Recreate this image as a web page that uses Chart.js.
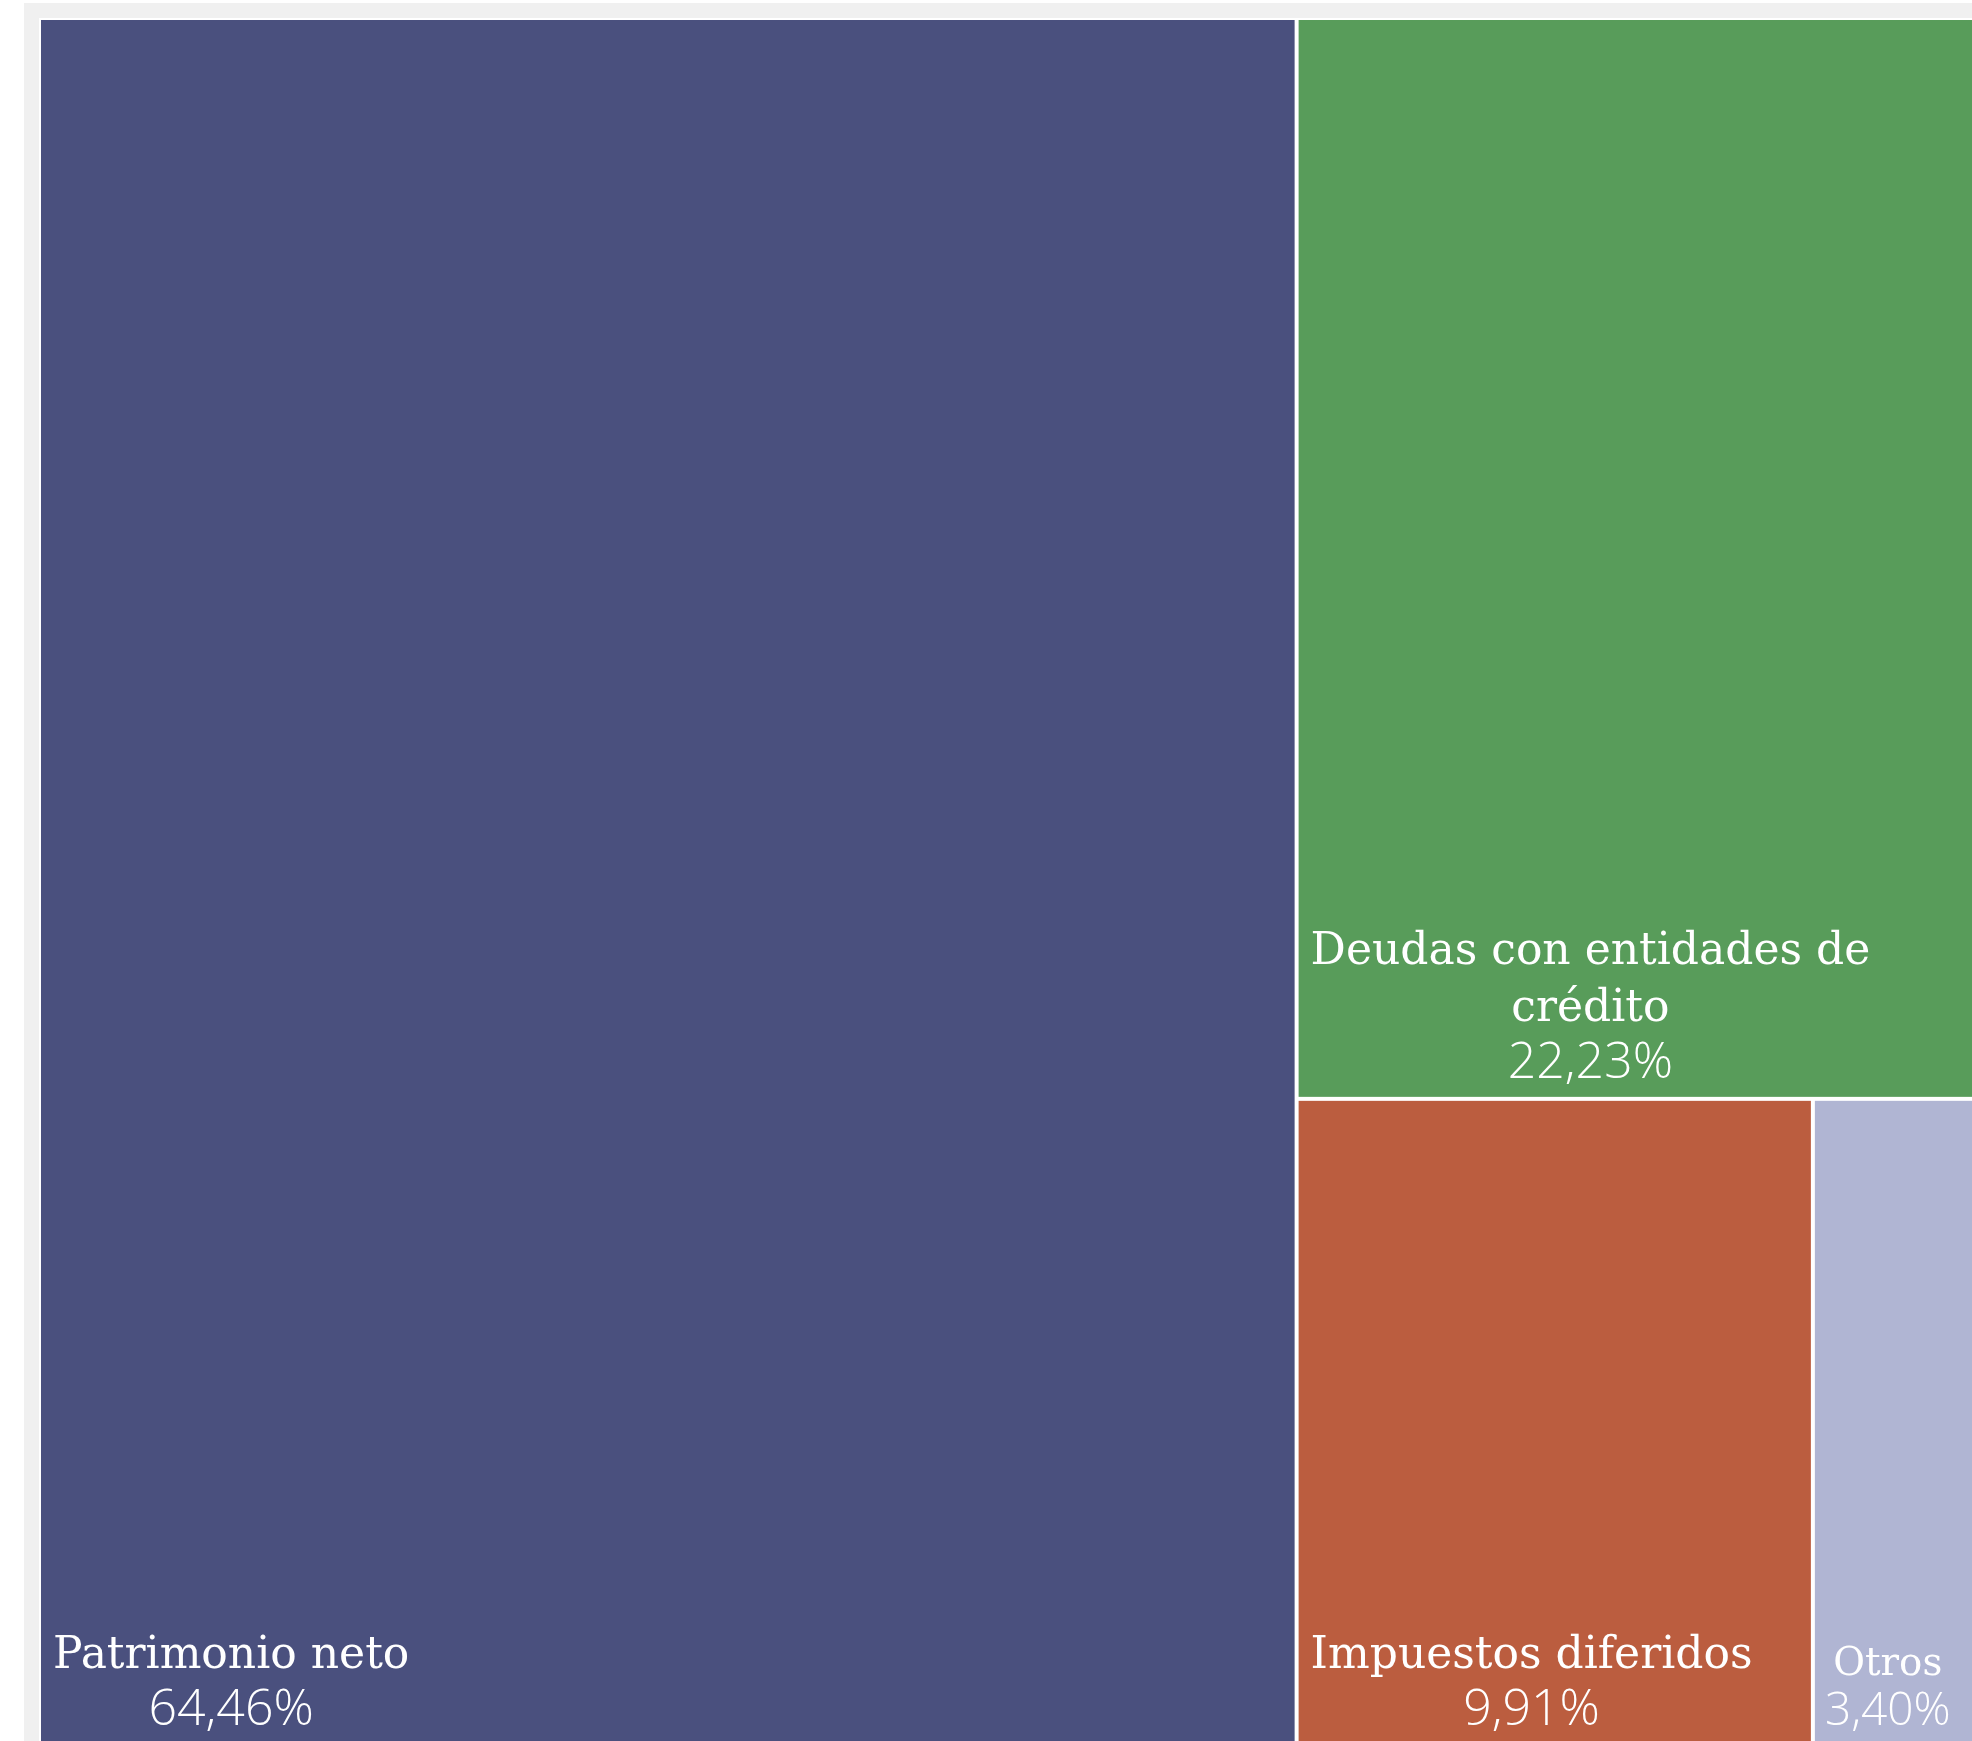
<!DOCTYPE html>
<html>
<head>
<meta charset="utf-8">
<script src="https://cdn.jsdelivr.net/npm/chart.js@4.4.1/dist/chart.umd.min.js"></script>
<style>
html, body { margin:0; padding:0; background:#fff; overflow:hidden; }
#wrap { position:absolute; left:24px; top:3px; }
#chart { background:#f0f0f0; }
</style>
</head>
<body>
<div id="wrap"><canvas id="chart" width="1990" height="1760"></canvas></div>
<script>
// treemap data (share of total, %)
const labels = ["Patrimonio neto", "Deudas con entidades de crédito", "Impuestos diferidos", "Otros"];
const values = [64.46, 22.23, 9.91, 3.40];
const colors = ["#4a507e", "#589c5a", "#bb5d3f", "#b0b5d3"];

function fmt(v){
return v.toFixed(2).replace(".", ",") + "%";
}

// squarify (same steps as d3 treemapSquarify), done in scale units 0..100
function layout(ax, ay){
let phi = (1 + Math.sqrt(5)) / 2;
let x0 = 0, y0 = 0, x1 = 100, y1 = 100;
let total = values.reduce((a,b) => a + b, 0);
let rects = [];
let i0 = 0, i1 = 0, n = values.length;
while(i0 < n){
let dx = (x1 - x0) * ax, dy = (y1 - y0) * ay;
let sum = values[i1++];
let minV = sum, maxV = sum;
let alpha = Math.max(dy/dx, dx/dy) / (total * phi);
let beta = sum * sum * alpha;
let minRatio = Math.max(maxV/beta, beta/minV);
for(; i1 < n; ++i1){
let v = values[i1];
sum += v;
if(v < minV) minV = v;
if(v > maxV) maxV = v;
beta = sum * sum * alpha;
let r = Math.max(maxV/beta, beta/minV);
if(r > minRatio){ sum -= v; break; }
minRatio = r;
}
if(dx < dy){
let ny = y0 + (y1 - y0) * sum / total;
let x = x0;
for(let i = i0; i < i1; i++){
let w = (x1 - x0) * values[i] / sum;
rects[i] = {x0:x, y0:y0, x1:x + w, y1:ny};
x += w;
}
y0 = ny;
} else {
let nx = x0 + (x1 - x0) * sum / total;
let y = y0;
for(let i = i0; i < i1; i++){
let h = (y1 - y0) * values[i] / sum;
rects[i] = {x0:x0, y0:y, x1:nx, y1:y + h};
y += h;
}
x0 = nx;
}
total -= sum;
i0 = i1;
}
return rects;
}

function wrap(ctx, text, maxW){
let words = text.split(" ");
let lines = [];
let cur = "";
words.forEach(w => {
let t = cur ? cur + " " + w : w;
if(cur && ctx.measureText(t).width > maxW){
lines.push(cur);
cur = w;
} else cur = t;
});
lines.push(cur);
return lines;
}

const treemapPlugin = {
id: "treemap",
afterDraw(chart){
const ctx = chart.ctx;
const xs = chart.scales.x, ys = chart.scales.y;
const area = chart.chartArea;
const rects = layout(area.width / 100, area.height / 100);

ctx.save();
ctx.fillStyle = "#ffffff";
ctx.fillRect(area.left, area.top, area.width, area.height);

rects.forEach((r, i) => {
let px0 = xs.getPixelForValue(r.x0), px1 = xs.getPixelForValue(r.x1);
let py0 = ys.getPixelForValue(r.y0), py1 = ys.getPixelForValue(r.y1);
let gap = 2;
ctx.fillStyle = colors[i];
ctx.fillRect(px0 + gap, py0 + gap, px1 - px0 - 2*gap, py1 - py0 - 2*gap);

// labels at bottom-left, lines centered within block
let boxW = px1 - px0;
let small = boxW < 250;
let k = small ? 0.88 : 1;
let nameFont = (44 * k) + "px 'DejaVu Serif'";
let pad = small ? 10 : 12;
ctx.font = nameFont;
let lines = wrap(ctx, labels[i], boxW - 2*pad);
let widths = lines.map(l => ctx.measureText(l).width);
let pctFont = "300 " + (50 * (small ? 0.92 : 1)) + "px 'Open Sans'";
ctx.font = pctFont;
let pct = fmt(values[i]);
widths.push(ctx.measureText(pct).width);
let blockW = Math.max(...widths);
let cx = px0 + gap + pad + blockW / 2;
let lh = 57 * k;
let base = py1 - 21;

ctx.fillStyle = "#ffffff";
ctx.textAlign = "center";
ctx.textBaseline = "alphabetic";
ctx.fillText(pct, cx, base);
ctx.font = nameFont;
for(let j = lines.length - 1; j >= 0; j--){
base -= lh;
ctx.fillText(lines[j], cx, base);
}
});
ctx.restore();
}
};

new Chart(document.getElementById("chart"), {
type: "scatter",
data: { datasets: [{ data: [] }] },
options: {
responsive: false,
animation: false,
layout: { padding: { left: 15, top: 15, right: 24, bottom: 17 } },
plugins: { legend: { display: false }, tooltip: { enabled: false } },
scales: {
x: { type: "linear", min: 0, max: 100, display: false },
y: { type: "linear", min: 0, max: 100, reverse: true, display: false }
}
},
plugins: [treemapPlugin]
});
</script>
</body>
</html>
